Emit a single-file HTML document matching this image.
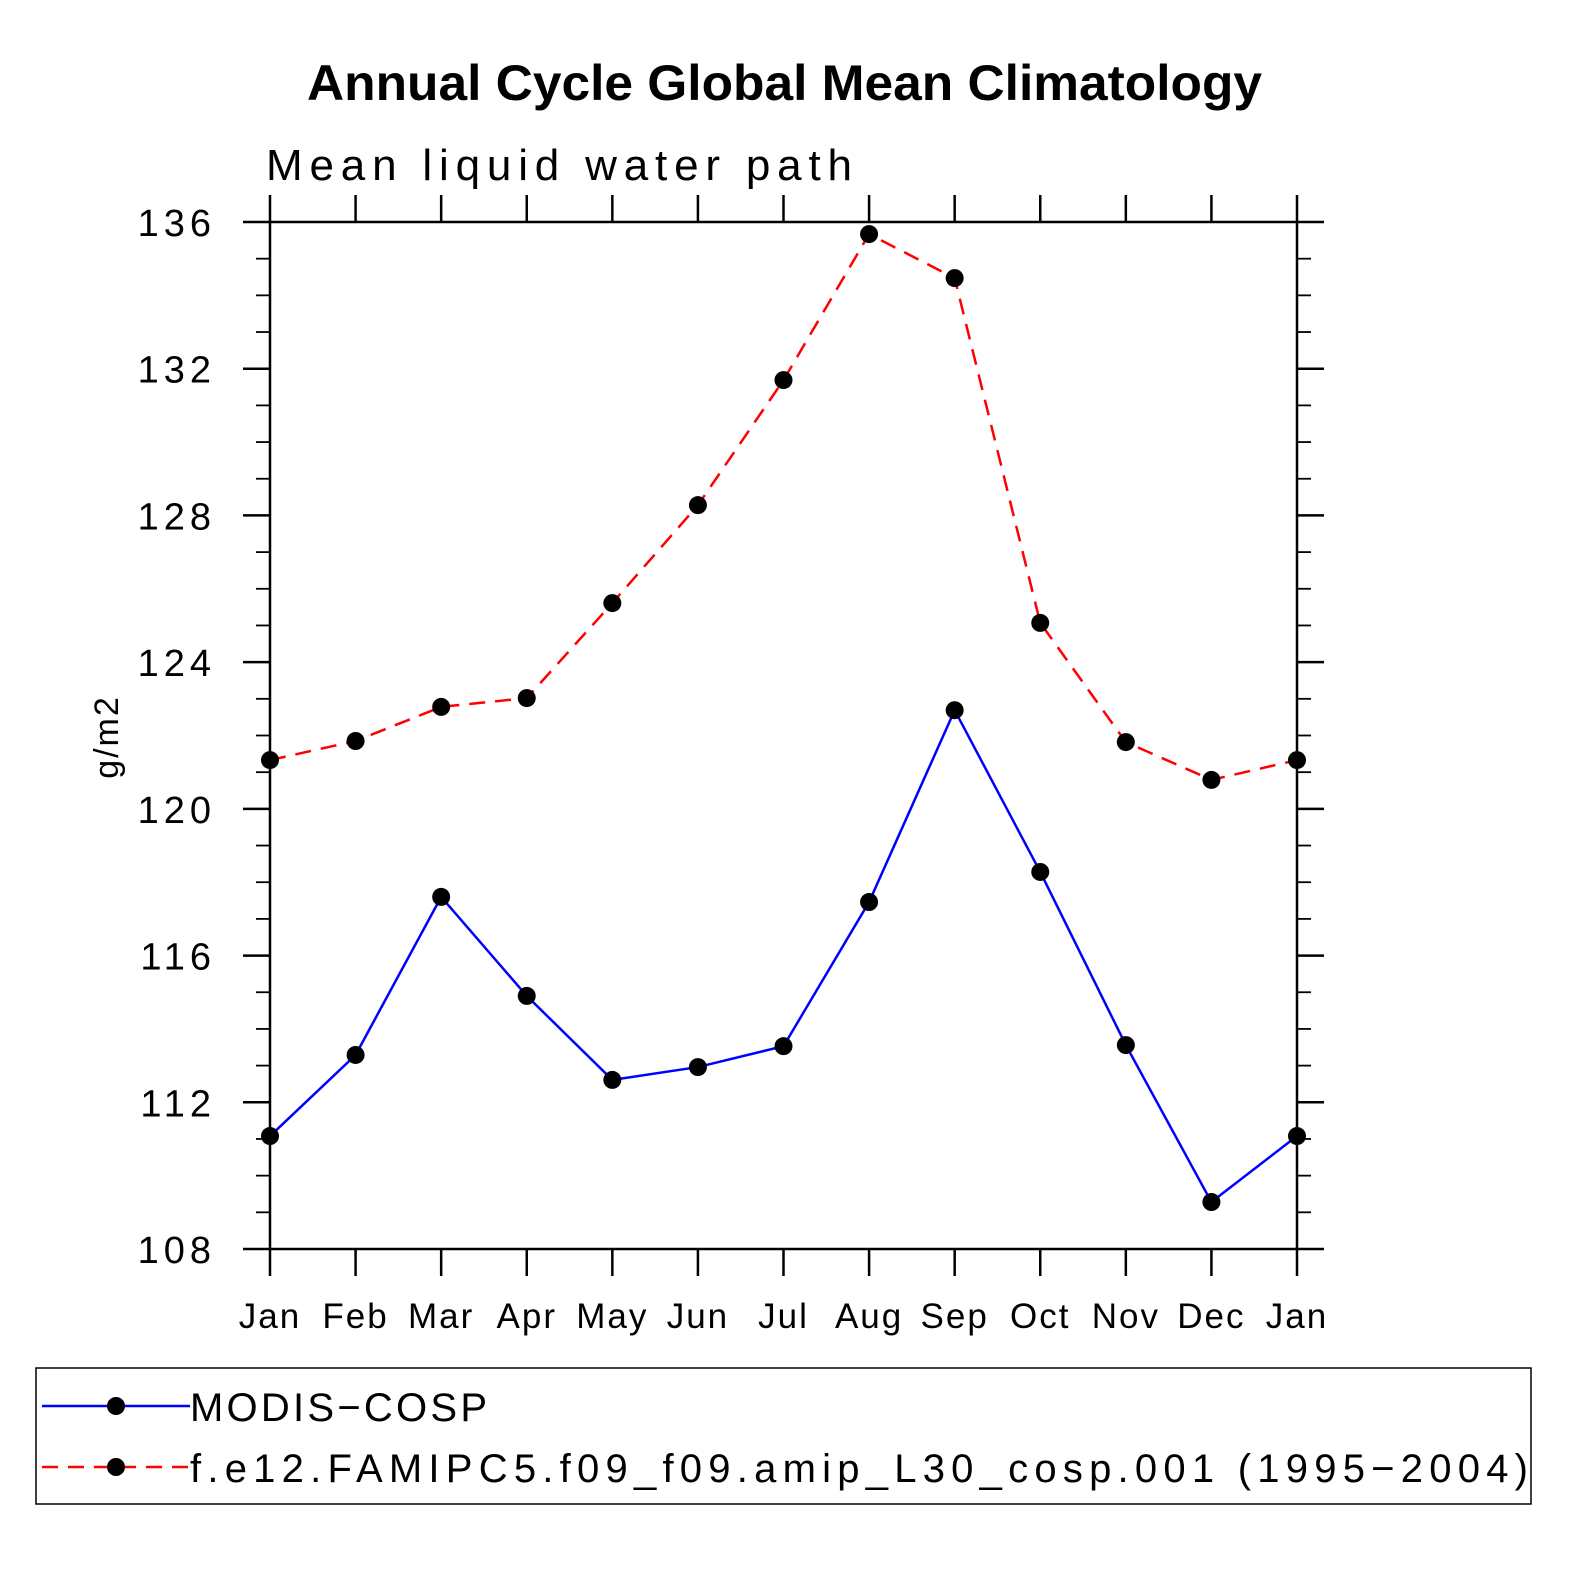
<!DOCTYPE html>
<html><head><meta charset="utf-8"><style>
html,body{margin:0;padding:0;background:#fff;}
svg{display:block;font-family:"Liberation Sans",sans-serif;}
</style></head><body>
<svg id="chart" width="1574" height="1574" viewBox="0 0 1574 1574">
<text x="307" y="100" textLength="955" lengthAdjust="spacingAndGlyphs" font-size="50" font-weight="bold">Annual Cycle Global Mean Climatology</text>
<text x="266" y="180" textLength="586" font-size="44">Mean liquid water path</text>
<text transform="translate(118,737) rotate(-90)" text-anchor="middle" font-size="34" letter-spacing="2">g/m2</text>
<g id="axes"></g>
<g id="series"></g>
<g>
<rect x="36" y="1368" width="1495" height="136" fill="none" stroke="#000" stroke-width="1.5"/>
<g>
<line x1="42" y1="1406" x2="190" y2="1406" stroke="#0000ff" stroke-width="2.5"/>
<circle cx="116" cy="1406" r="9" fill="#000"/>
<text x="190" y="1421" font-size="40" textLength="297">MODIS−COSP</text></g>
<g>
<line x1="42" y1="1467" x2="190" y2="1467" stroke="#ff0000" stroke-width="2.5" stroke-dasharray="16,10"/>
<circle cx="116" cy="1467" r="9" fill="#000"/>
<text x="190" y="1482" font-size="40" textLength="1338">f.e12.FAMIPC5.f09_f09.amip_L30_cosp.001 (1995−2004)</text></g>
</g>
</svg>
<script>
const months=["Jan","Feb","Mar","Apr","May","Jun","Jul","Aug","Sep","Oct","Nov","Dec","Jan"];
const modisValues=[111.08,113.29,117.6,114.9,112.61,112.96,113.53,117.46,122.69,118.28,113.56,109.28,111.08];
const modelValues=[121.33,121.85,122.78,123.02,125.61,128.28,131.69,135.67,134.47,125.07,121.82,120.79,121.33];
const yTicks=[108,112,116,120,124,128,132,136];
const ns="http://www.w3.org/2000/svg";
const X0=270,X1=1297,Y0=1249,Y1=222,YMIN=108,YMAX=136;
const xs=i=>X0+(X1-X0)*i/(months.length-1);
const ys=v=>Y0-(Y0-Y1)*(v-YMIN)/(YMAX-YMIN);
function mk(tag,attrs,parent){const e=document.createElementNS(ns,tag);for(const k in attrs)e.setAttribute(k,attrs[k]);parent.appendChild(e);return e;}
const ax=document.getElementById('axes');
const frame=mk('rect',{x:X0,y:Y1,width:X1-X0,height:Y0-Y1,fill:'none',stroke:'#000','stroke-width':2.5},ax);


months.forEach((m,i)=>{
  const x=xs(i);
  mk('line',{x1:x,y1:Y0,x2:x,y2:Y0+27,stroke:'#000','stroke-width':2.5},ax);
  mk('line',{x1:x,y1:Y1,x2:x,y2:Y1-27,stroke:'#000','stroke-width':2.5},ax);
  const t=mk('text',{x:x,y:1328,'text-anchor':'middle','font-size':35,'letter-spacing':2},ax);
  t.textContent=m;
  
  
});
for(let v=YMIN;v<=YMAX;v++){
  const y=ys(v);
  if((v-YMIN)%4===0){
    mk('line',{x1:X0-27,y1:y,x2:X0,y2:y,stroke:'#000','stroke-width':2.5},ax);
    mk('line',{x1:X1,y1:y,x2:X1+27,y2:y,stroke:'#000','stroke-width':2.5},ax);
  }else{
    mk('line',{x1:X0-14,y1:y,x2:X0,y2:y,stroke:'#000','stroke-width':1.8},ax);
    mk('line',{x1:X1,y1:y,x2:X1+14,y2:y,stroke:'#000','stroke-width':1.8},ax);
  }
}
yTicks.forEach(v=>{
  const t=mk('text',{x:216,y:ys(v)+14,'text-anchor':'end','font-size':38,'letter-spacing':5},ax);
  t.textContent=v;
  
  
});
const sg=document.getElementById('series');
function draw(vals,color,dash,name){
  const g=mk('g',{},sg);
  
  
  const pts=vals.map((v,i)=>xs(i)+','+ys(v)).join(' ');
  const attrs={points:pts,fill:'none',stroke:color,'stroke-width':2.5};
  if(dash)attrs['stroke-dasharray']=dash;
  mk('polyline',attrs,g);
  vals.forEach((v,i)=>{
    const c=mk('circle',{cx:xs(i),cy:ys(v),r:9,fill:'#000'},g);
    
    
  });
}
draw(modelValues,'#ff0000','16,10','series-model');
draw(modisValues,'#0000ff',null,'series-modis');
</script>
</body></html>
